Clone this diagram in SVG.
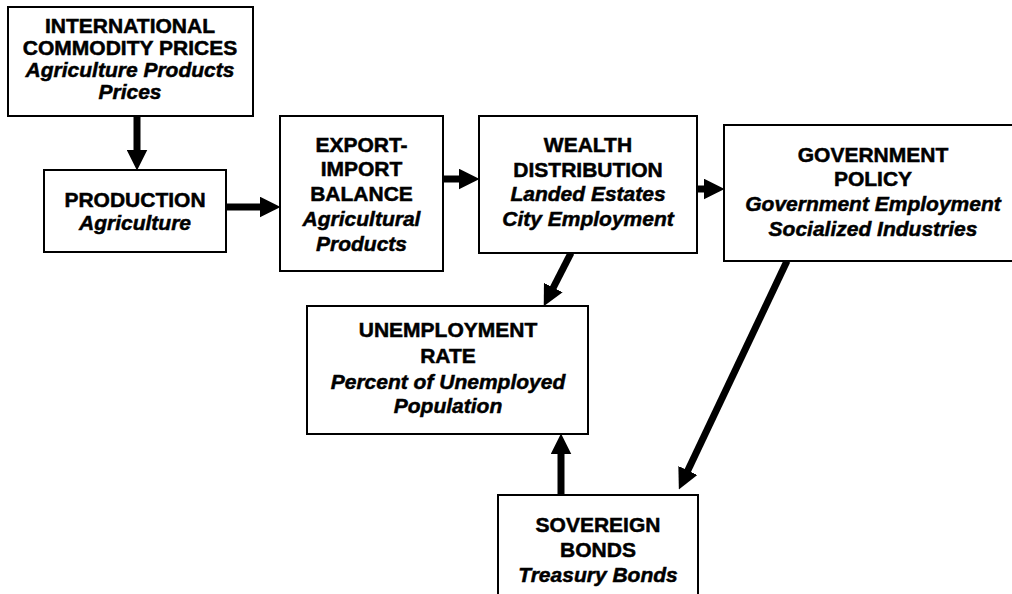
<svg xmlns="http://www.w3.org/2000/svg" width="1012" height="594" viewBox="0 0 1012 594">
<style>
.box{fill:#fff;stroke:#000;stroke-width:2}
.t{font-family:"Liberation Sans",Arial,sans-serif;font-size:21px;font-weight:bold;text-anchor:middle;fill:#000;stroke:#000;stroke-width:0.5}
.i{font-style:italic}
.c{stroke:#000;stroke-width:7;fill:none}
</style>
<defs>
<marker id="ah" markerUnits="userSpaceOnUse" markerWidth="21" markerHeight="21" viewBox="0 0 20 20" refX="9" refY="10" orient="auto">
<path d="M0,0 L20,10 L0,20 z" fill="#000"/>
</marker>
</defs>
<rect width="1012" height="594" fill="#fff"/>
<g id="connectors">
<line class="c" x1="137" y1="116" x2="137" y2="159" marker-end="url(#ah)"/>
<line class="c" x1="226" y1="207" x2="269" y2="207" marker-end="url(#ah)"/>
<line class="c" x1="443" y1="179" x2="468" y2="179" marker-end="url(#ah)"/>
<line class="c" x1="697" y1="189" x2="713" y2="189" marker-end="url(#ah)"/>
<line class="c" x1="571" y1="253" x2="549" y2="296" marker-end="url(#ah)"/>
<line class="c" x1="787" y1="261" x2="683.8" y2="479" marker-end="url(#ah)"/>
<line class="c" x1="561" y1="495" x2="561" y2="445" marker-end="url(#ah)"/>
</g>
<g id="intl">
<rect class="box" x="8" y="7" width="245" height="109"/>
<text class="t" x="130" y="33">INTERNATIONAL</text>
<text class="t" x="130" y="55">COMMODITY PRICES</text>
<text class="t i" x="130" y="77">Agriculture Products</text>
<text class="t i" x="130" y="99">Prices</text>
</g>
<g id="production">
<rect class="box" x="44" y="170" width="182" height="82"/>
<text class="t" x="135" y="207">PRODUCTION</text>
<text class="t i" x="135" y="230">Agriculture</text>
</g>
<g id="export">
<rect class="box" x="280" y="116" width="163" height="155"/>
<text class="t" x="361.5" y="152">EXPORT-</text>
<text class="t" x="361.5" y="176">IMPORT</text>
<text class="t" x="361.5" y="201">BALANCE</text>
<text class="t i" x="361.5" y="226">Agricultural</text>
<text class="t i" x="361.5" y="251">Products</text>
</g>
<g id="wealth">
<rect class="box" x="479" y="116" width="218" height="137"/>
<text class="t" x="588" y="152">WEALTH</text>
<text class="t" x="588" y="177">DISTRIBUTION</text>
<text class="t i" x="588" y="201">Landed Estates</text>
<text class="t i" x="588" y="226">City Employment</text>
</g>
<g id="government">
<rect class="box" x="724" y="125" width="298" height="136"/>
<text class="t" x="873" y="162">GOVERNMENT</text>
<text class="t" x="873" y="186">POLICY</text>
<text class="t i" x="873" y="211">Government Employment</text>
<text class="t i" x="873" y="236">Socialized Industries</text>
</g>
<g id="unemployment">
<rect class="box" x="307" y="306" width="281" height="128"/>
<text class="t" x="448" y="337">UNEMPLOYMENT</text>
<text class="t" x="448" y="363">RATE</text>
<text class="t i" x="448" y="389">Percent of Unemployed</text>
<text class="t i" x="448" y="413">Population</text>
</g>
<g id="sovereign">
<rect class="box" x="498" y="495" width="200" height="110"/>
<text class="t" x="598" y="532">SOVEREIGN</text>
<text class="t" x="598" y="557">BONDS</text>
<text class="t i" x="598" y="582">Treasury Bonds</text>
</g>
</svg>
